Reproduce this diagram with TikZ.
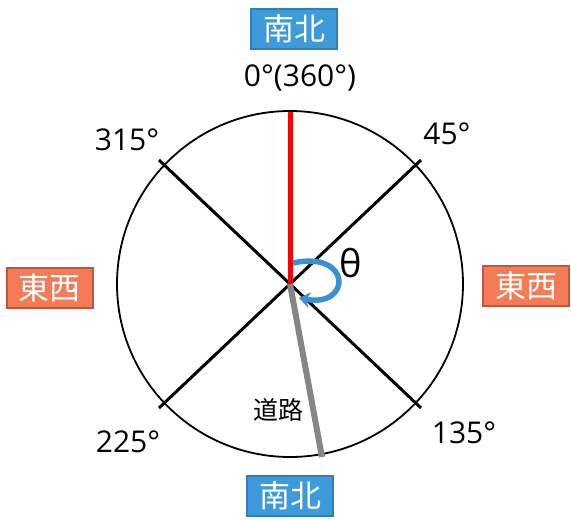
\documentclass[tikz,border=0pt]{standalone}
\usepackage{fontspec}
\setmainfont{Open Sans}
\newfontfamily\cjkfont{Noto Sans CJK JP}
\usetikzlibrary{arrows.meta}
\definecolor{boxblue}{HTML}{3D9BDB}
\definecolor{boxblueedge}{HTML}{2F7FB9}
\definecolor{boxorange}{HTML}{F47B55}
\definecolor{boxorangeedge}{HTML}{C65638}
\definecolor{arcblue}{HTML}{3A90D2}
\tikzset{
  dirbox/.style={draw=#1edge, fill=#1, line width=1.2pt, text=white, font=\cjkfont\fontsize{31}{31}\selectfont, minimum width=86pt, minimum height=40pt, inner sep=0pt},
  deg/.style={font=\fontsize{30}{30}\selectfont, inner sep=0pt},
  axisline/.style={line width=3pt, black},
}
\begin{document}
\begin{tikzpicture}[x=1pt,y=-1pt]
\useasboundingbox (0,0) rectangle (571,520);
\coordinate (c) at (290,284);
\node[draw, line width=1.8pt, circle, minimum size=346pt, inner sep=0pt] (circ) at (c) {};
% diagonals
\coordinate (nw) at (159,160);
\coordinate (se) at (421,408);
\coordinate (ne) at (421,160);
\coordinate (sw) at (159,408);
\draw[axisline] (nw) -- (se);
\draw[axisline] (ne) -- (sw);
% red north line
\coordinate (top) at (290,112);
\draw[red, line width=5pt] (top) -- (c);
% road
\coordinate (roadend) at (322,457);
\draw[gray!95, line width=6pt] (c) -- (roadend);
% theta arc
\draw[arcblue, line width=5.5pt, -{Stealth[length=11pt,width=16pt]}] (293,263) .. controls (352,250) and (352,308) .. (299,298);
\node[font=\fontsize{38}{38}\selectfont, inner sep=0pt] (theta) at (351,263) {θ};
% degree labels
\node[deg] (d0) at (300,78) {0°(360°)};
\node[deg] (d45) at (447,134) {45°};
\node[deg] (d315) at (127,140) {315°};
\node[deg] (d225) at (128,442) {225°};
\node[deg] (d135) at (464,433) {135°};
\node[font=\cjkfont\fontsize{25}{25}\selectfont, inner sep=0pt] (road) at (278,410) {道路};
% boxes
\node[dirbox=boxblue] (nTop) at (294,29) {南北};
\node[dirbox=boxblue] (nBot) at (290,496) {南北};
\node[dirbox=boxorange] (wL) at (50,288) {東西};
\node[dirbox=boxorange] (eR) at (526,286) {東西};
\end{tikzpicture}
\end{document}
